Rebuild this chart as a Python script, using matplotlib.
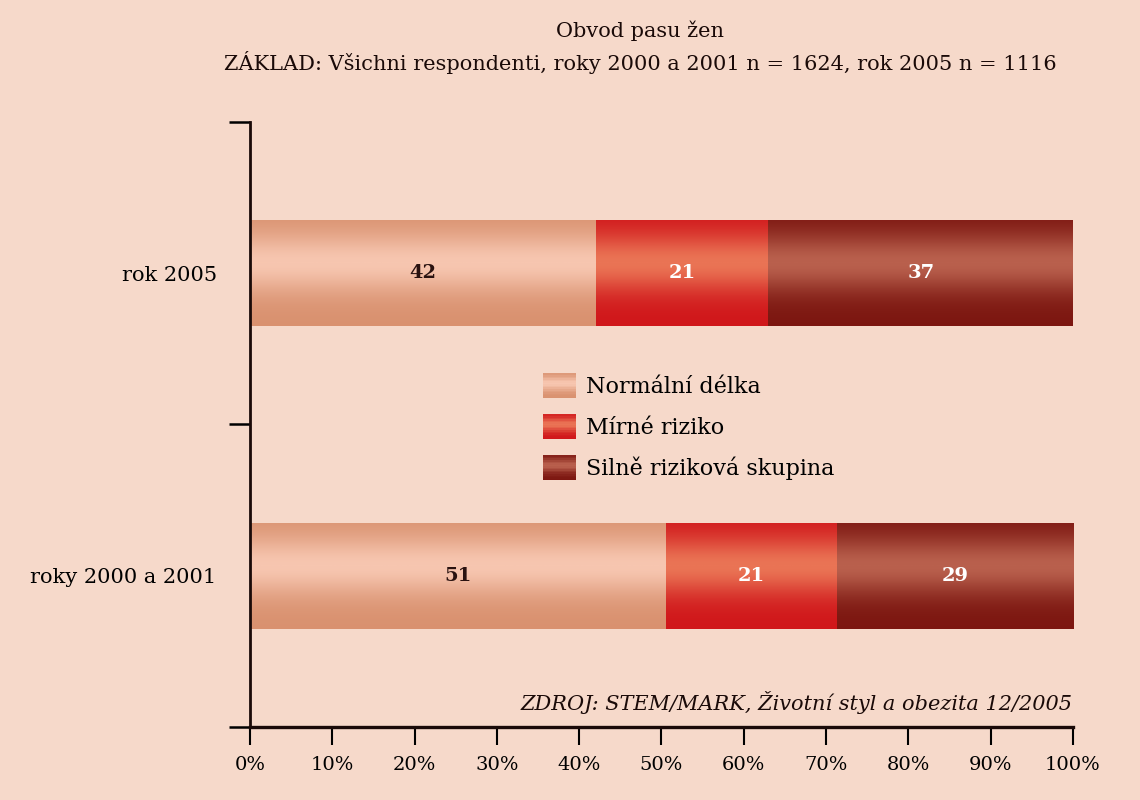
import numpy as np
import matplotlib
matplotlib.use("Agg")
import matplotlib.pyplot as plt
from matplotlib.patches import Patch, Rectangle
from matplotlib.colors import LinearSegmentedColormap
from matplotlib.legend_handler import HandlerBase

categories = ["roky 2000 a 2001", "rok 2005"]
series_names = ["Normální délka", "Mírné riziko", "Silně riziková skupina"]
normal = [51, 42]
mild = [21, 21]
severe = [29, 37]
xtick_labels = ["0%", "10%", "20%", "30%", "40%", "50%", "60%", "70%", "80%", "90%", "100%"]

title = "Obvod pasu žen"
subtitle = "ZÁKLAD: Všichni respondenti, roky 2000 a 2001 n = 1624, rok 2005 n = 1116"
source = "ZDROJ: STEM/MARK, Životní styl a obezita 12/2005"

bg = "#f6d9ca"
edge_cols = ["#d9916f", "#d0161a", "#7c1610"]
mid_cols = ["#f7c6b0", "#ea7455", "#b9604d"]
text_cols = ["#2a1210", "white", "white"]
ink = "#1a0a08"

plt.rcParams["font.family"] = ["DejaVu Serif", "DejaVu Sans"]

fig = plt.figure(figsize=(11.4, 8.0), dpi=100, facecolor=bg)
ax = fig.add_axes([0.2193, 0.0913, 0.7219, 0.7563])
ax.set_facecolor(bg)

data = np.array([normal, mild, severe], dtype=float)
totals = data.sum(axis=0)
shares = data / totals * 100
y = np.arange(len(categories))
height = 0.35

t = np.linspace(0, 1, 200)
prof = np.exp(-((t - 0.6) / 0.28) ** 2)
cmaps = [LinearSegmentedColormap.from_list(f"g{i}", [edge_cols[i], mid_cols[i]])
         for i in range(3)]

left = np.zeros(len(categories))
for i in range(3):
    bars = ax.barh(y, shares[i], left=left, height=height, color="none",
                   edgecolor="none", zorder=2)
    for j, b in enumerate(bars):
        x0, y0 = b.get_x(), b.get_y()
        w, h = b.get_width(), b.get_height()
        ax.imshow(prof.reshape(-1, 1), cmap=cmaps[i], vmin=0, vmax=1, aspect="auto",
                  extent=[x0, x0 + w, y0, y0 + h], origin="lower",
                  zorder=1, interpolation="bicubic")
        ax.text(x0 + w / 2, y0 + h / 2, f"{int(data[i][j])}", ha="center",
                va="center", fontsize=14, color=text_cols[i], fontweight="bold",
                zorder=3)
    left = left + shares[i]


class GradientHandler(HandlerBase):
    def __init__(self, cmap):
        super().__init__()
        self.cmap = cmap

    def create_artists(self, legend, orig_handle, xdescent, ydescent, width,
                       height, fontsize, trans):
        n = 16
        arts = []
        for k in range(n):
            tt = (k + 0.5) / n
            v = np.exp(-((tt - 0.6) / 0.28) ** 2)
            r = Rectangle((-xdescent, -ydescent + height * k / n), width,
                          height / n + 0.3, facecolor=self.cmap(v),
                          edgecolor="none", transform=trans)
            arts.append(r)
        return arts


handles = [Patch(facecolor=mid_cols[i], label=series_names[i]) for i in range(3)]
ax.legend(handles=handles, loc="center", bbox_to_anchor=(0.533, 0.496),
          frameon=False, fontsize=16, handlelength=1.5, handleheight=1.35,
          handletextpad=0.45, labelspacing=0.72,
          handler_map={handles[i]: GradientHandler(cmaps[i]) for i in range(3)})

ax.set_xlim(0, 100)
ax.set_ylim(-0.5, 1.5)
ax.set_xticks(np.arange(0, 101, 10))
ax.set_xticklabels(xtick_labels, fontsize=14)
ax.set_yticks([-0.5, 0.5, 1.5])
ax.set_yticklabels([])
ax.set_yticks(y, minor=True)
ax.set_yticklabels(categories, minor=True, fontsize=15)
ax.tick_params(axis="y", which="minor", length=0, pad=24)
ax.tick_params(axis="y", which="major", length=15, width=1.8, direction="out")
ax.tick_params(axis="x", length=13, width=1.5, direction="out", pad=8)

for s in ["top", "right"]:
    ax.spines[s].set_visible(False)
ax.spines["left"].set_linewidth(2)
ax.spines["bottom"].set_linewidth(2.4)
ax.spines["left"].set_color(ink)
ax.spines["bottom"].set_color(ink)

ax.text(1.0, 0.04, source, transform=ax.transAxes, ha="right", va="center",
        fontsize=15, style="italic", color=ink)

fig.text(0.5614, 0.962, title, ha="center", va="center", fontsize=15, color=ink)
fig.text(0.5614, 0.922, subtitle, ha="center", va="center", fontsize=15, color=ink)

fig.savefig("out.png", dpi=100, facecolor=bg)
